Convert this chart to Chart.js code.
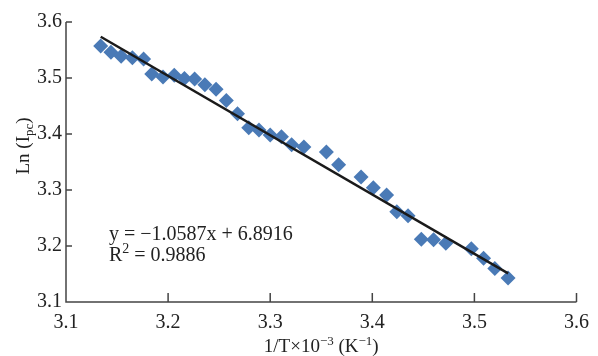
<!DOCTYPE html>
<html>
<head>
<meta charset="utf-8">
<script src="https://cdn.jsdelivr.net/npm/chart.js@4"></script>
<style>
  html, body { margin: 0; padding: 0; background: #fff; }
  #wrap { width: 598px; height: 356px; }
</style>
</head>
<body>
<div id="wrap"><canvas id="myChart" width="598" height="356"></canvas></div>
<script>
// measured points, 1/T x 10^-3 vs Ln(Ipc)
const invT = [3.134, 3.144, 3.154, 3.165, 3.176, 3.184, 3.195, 3.206, 3.216, 3.226,
  3.236, 3.247, 3.257, 3.268, 3.279, 3.289, 3.300, 3.311, 3.321, 3.333,
  3.355, 3.367, 3.389, 3.401, 3.414, 3.424, 3.435, 3.448, 3.460, 3.472,
  3.497, 3.509, 3.520, 3.533];
const lnIpc = [3.557, 3.546, 3.539, 3.536, 3.534, 3.507, 3.502, 3.505, 3.499, 3.498,
  3.488, 3.480, 3.460, 3.436, 3.411, 3.407, 3.398, 3.395, 3.381, 3.377,
  3.368, 3.345, 3.323, 3.304, 3.291, 3.261, 3.254, 3.212, 3.211, 3.205,
  3.195, 3.178, 3.160, 3.143];

// linear fit shown on the chart
const slope = -1.0587;
const intercept = 6.8916;
const rSquared = 0.9886;
const fitRange = [3.134, 3.533];

const xTicks = [3.1, 3.2, 3.3, 3.4, 3.5, 3.6];
const yTicks = [3.1, 3.2, 3.3, 3.4, 3.5, 3.6];

const FONT = "'Liberation Serif', 'Times New Roman', serif";
const AXIS_COLOR = '#444';

// draw a run of text pieces, some raised or lowered
function drawRich(ctx, parts, x, y, size, align) {
  const small = Math.round(size * 0.68);
  let total = 0;
  parts.forEach(p => {
    ctx.font = `${p.sup || p.sub ? small : size}px ${FONT}`;
    total += ctx.measureText(p.t).width;
  });
  let cx = align === 'center' ? x - total / 2 : x;
  ctx.textAlign = 'left';
  ctx.textBaseline = 'alphabetic';
  parts.forEach(p => {
    ctx.font = `${p.sup || p.sub ? small : size}px ${FONT}`;
    let dy = 0;
    if (p.sup) dy = -size * 0.38;
    if (p.sub) dy = size * 0.2;
    ctx.fillText(p.t, cx, y + dy);
    cx += ctx.measureText(p.t).width;
  });
}

const decorations = {
  id: 'decorations',
  afterDraw(chart) {
    const ctx = chart.ctx;
    const area = chart.chartArea;
    const xs = chart.scales.x, ys = chart.scales.y;
    ctx.save();

    // axis lines and inward ticks
    ctx.strokeStyle = AXIS_COLOR;
    ctx.lineWidth = 1.5;
    ctx.beginPath();
    ctx.moveTo(area.left, area.top);
    ctx.lineTo(area.left, area.bottom);
    ctx.lineTo(area.right, area.bottom);
    xTicks.forEach(v => {
      const px = xs.getPixelForValue(v);
      ctx.moveTo(px, area.bottom);
      ctx.lineTo(px, area.bottom - 9);
    });
    yTicks.forEach(v => {
      const py = ys.getPixelForValue(v);
      ctx.moveTo(area.left, py);
      ctx.lineTo(area.left + 6, py);
    });
    ctx.stroke();

    ctx.fillStyle = '#222';
    // x title
    drawRich(ctx, [{t: '1/T×10'}, {t: '−3', sup: true}, {t: ' (K'}, {t: '−1', sup: true}, {t: ')'}],
      (area.left + area.right) / 2, 352, 19, 'center');

    // y title
    ctx.save();
    ctx.translate(29, 146);
    ctx.rotate(-Math.PI / 2);
    drawRich(ctx, [{t: 'Ln (I'}, {t: 'pc', sub: true}, {t: ')'}], 0, 0, 19, 'center');
    ctx.restore();

    // fit equation
    const sign = intercept >= 0 ? '+' : '−';
    const eq = `y = ${slope < 0 ? '−' : ''}${Math.abs(slope).toFixed(4)}x ${sign} ${Math.abs(intercept).toFixed(4)}`;
    drawRich(ctx, [{t: eq}], 109, 240, 20, 'left');
    drawRich(ctx, [{t: 'R'}, {t: '2', sup: true}, {t: ' = ' + rSquared.toFixed(4)}], 109, 261, 20, 'left');

    ctx.restore();
  }
};

const ctx = document.getElementById('myChart').getContext('2d');
const myChart = new Chart(ctx, {
  type: 'scatter',
  data: {
    datasets: [{
      label: 'data',
      data: invT.map((x, i) => ({x: x, y: lnIpc[i]})),
      pointStyle: 'rectRot',
      pointRadius: 7.5,
      pointHoverRadius: 7.5,
      backgroundColor: '#4a7ab6',
      borderColor: '#4a7ab6',
      borderWidth: 0,
      order: 2
    }, {
      label: 'fit',
      type: 'line',
      data: fitRange.map(x => ({x: x, y: slope * x + intercept})),
      borderColor: '#1a1a1a',
      borderWidth: 2.5,
      pointRadius: 0,
      fill: false,
      order: 1
    }]
  },
  options: {
    responsive: false,
    animation: false,
    layout: { padding: { top: 22, right: 17, left: 0, bottom: 0 } },
    plugins: {
      legend: { display: false },
      tooltip: { enabled: false }
    },
    scales: {
      x: {
        type: 'linear',
        min: 3.1, max: 3.6,
        afterBuildTicks: s => { s.ticks = xTicks.map(v => ({value: v})); },
        afterFit: s => { s.height = 54; },
        grid: { display: false, drawTicks: false },
        border: { display: false },
        ticks: {
          padding: 9,
          color: '#222',
          font: { family: FONT, size: 20 },
          callback: v => v.toFixed(1)
        }
      },
      y: {
        type: 'linear',
        min: 3.1, max: 3.6,
        afterBuildTicks: s => { s.ticks = yTicks.map(v => ({value: v})); },
        afterFit: s => { s.width = 66; },
        grid: { display: false, drawTicks: false },
        border: { display: false },
        ticks: {
          padding: 4,
          color: '#222',
          font: { family: FONT, size: 20 },
          callback: v => v.toFixed(1)
        }
      }
    }
  },
  plugins: [decorations]
});
</script>
</body>
</html>
